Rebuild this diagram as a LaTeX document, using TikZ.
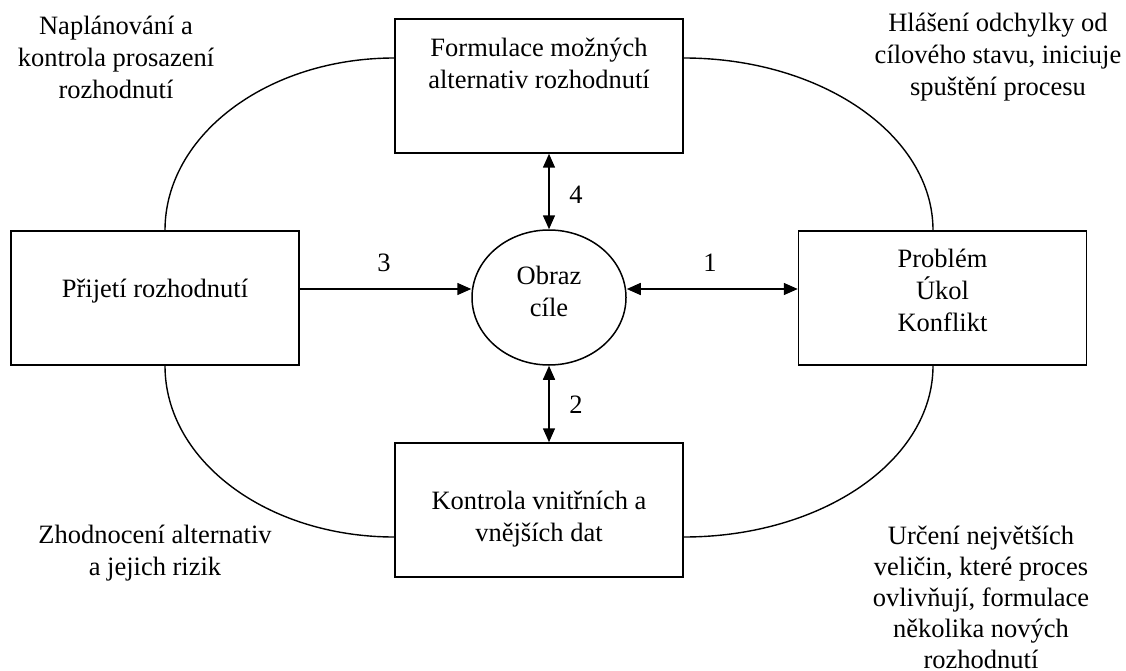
\documentclass[tikz,border=0pt]{standalone}
\usepackage{fontspec}
\setmainfont{Liberation Serif}
\usetikzlibrary{arrows.meta,shapes.geometric}
\begin{document}
\begin{tikzpicture}[x=1pt,y=-1pt,
  line width=1.5pt,
  every node/.style={font=\fontsize{26.5}{32}\selectfont, align=center},
  box/.style={draw, rectangle, minimum width=288pt, minimum height=134pt, inner sep=0pt},
  txt/.style={inner sep=0pt},
  tip/.style={-{Triangle[length=14pt,width=12pt]}},
  tips/.style={{Triangle[length=14pt,width=12pt]}-{Triangle[length=14pt,width=12pt]}},
  loop/.style={line width=1.4pt}]
\useasboundingbox (0,0) rectangle (1126,671);

% boxes of the decision cycle
\node[box] (tbox) at (539,86) {};
\node[box] (lbox) at (155,298) {};
\node[box] (rbox) at (942.5,298) {};
\node[box] (bbox) at (539,510) {};
\node[draw, ellipse, minimum width=154pt, minimum height=135pt, inner sep=0pt] (ell) at (549,297.5) {};

% box texts
\node[txt] (ttxt) at (539,63) {Formulace možných\\alternativ rozhodnutí};
\node[txt] (ltxt) at (155,291) {Přijetí rozhodnutí};
\node[txt] (rtxt) at (942.5,290) {Problém\\Úkol\\Konflikt};
\node[txt] (btxt) at (539,519) {Kontrola vnitřních a\\vnějších dat};
\node[txt] (etxt) at (549,291) {Obraz\\cíle};

% arrows to the goal image
\draw[tips] (ell.north |- tbox.south) -- (ell.north);
\draw[tips] (ell.south) -- (ell.south |- bbox.north);
\draw[tip] ([yshift=9pt]lbox.east) -- ([yshift=9pt]lbox.east -| ell.west);
\draw[tips] ([yshift=9pt]rbox.west -| ell.east) -- ([yshift=9pt]rbox.west);

\node[txt] (n4) at (576,195) {4};
\node[txt] (n2) at (576,405) {2};
\node[txt] (n3) at (384,263) {3};
\node[txt] (n1) at (710,263) {1};

% outer loop
\draw[loop] ([yshift=28pt]tbox.west) .. controls +(-127,0) and +(0,-95) .. ([xshift=10pt]lbox.north);
\draw[loop] ([yshift=28pt]tbox.east) .. controls +(138,0) and +(0,-95) .. ([xshift=-9.5pt]rbox.north);
\draw[loop] ([xshift=10pt]lbox.south) .. controls +(0,95) and +(-127,0) .. ([yshift=-27pt]bbox.west);
\draw[loop] ([xshift=-9.5pt]rbox.south) .. controls +(0,95) and +(138,0) .. ([yshift=-27pt]bbox.east);

% stage descriptions
\node[txt] (ctl) at (116,57) {Naplánování a\\kontrola prosazení\\rozhodnutí};
\node[txt] (ctr) at (998,57) {Hlášení odchylky od\\cílového stavu, iniciuje\\spuštění procesu};
\node[txt] (cbl) at (155,553) {Zhodnocení alternativ\\a jejich rizik};
\node[txt, font=\fontsize{26.5}{31}\selectfont] (cbr) at (981,597) {Určení největších\\veličin, které proces\\ovlivňují, formulace\\několika nových\\rozhodnutí};
\end{tikzpicture}
\end{document}
